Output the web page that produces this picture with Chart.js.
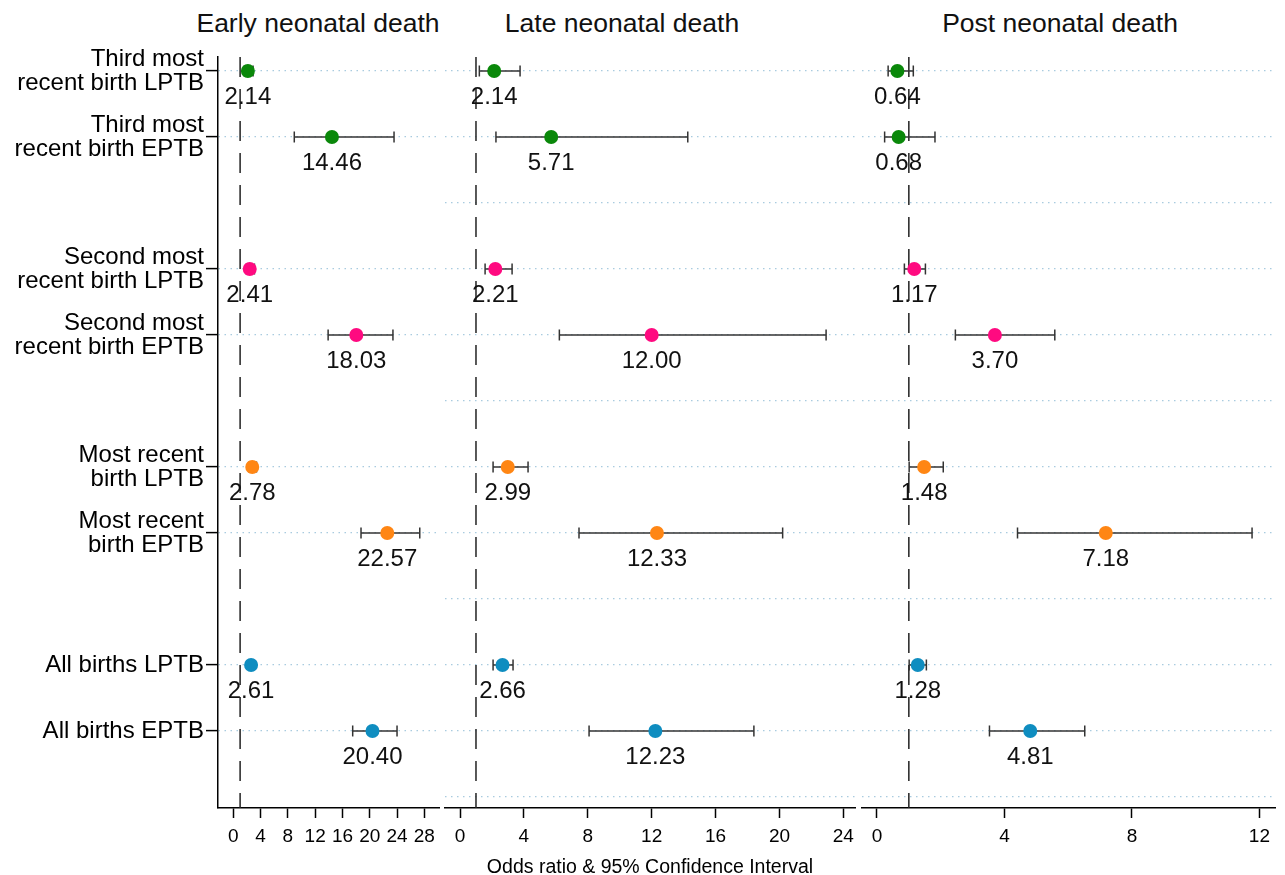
<!DOCTYPE html>
<html><head><meta charset="utf-8">
<script src="https://cdn.jsdelivr.net/npm/chart.js@4.4.1/dist/chart.umd.min.js"></script>
<style>
html,body{margin:0;padding:0;background:#fff;}
body{width:1285px;height:875px;position:relative;overflow:hidden;font-family:"Liberation Sans",Arial,sans-serif;}
canvas{position:absolute;top:0;}
.title{position:absolute;top:8px;font-size:26.5px;line-height:30px;color:#111;white-space:nowrap;transform:translateX(-50%);}
</style></head><body>
<div class="title" style="left:318px">Early neonatal death</div>
<div class="title" style="left:622px">Late neonatal death</div>
<div class="title" style="left:1060px">Post neonatal death</div>
<canvas id="c1" width="480" height="875" style="left:0px"></canvas>
<canvas id="c2" width="470" height="875" style="left:415px"></canvas>
<canvas id="c3" width="447" height="875" style="left:838px"></canvas>
<script>
// ---- data ----
const rowLabels = [
  ["Third most","recent birth LPTB"], ["Third most","recent birth EPTB"], "",
  ["Second most","recent birth LPTB"], ["Second most","recent birth EPTB"], "",
  ["Most recent","birth LPTB"], ["Most recent","birth EPTB"], "",
  "All births LPTB", "All births EPTB", ""
];
const categoryRows = [0,1,3,4,6,7,9,10];
const pointColors = ["#0a880a","#0a880a","#ff0a80","#ff0a80","#ff8614","#ff8614","#0f8dc0","#0f8dc0"];

const earlyOR = [2.14,14.46,2.41,18.03,2.78,22.57,2.61,20.40];
const earlyLo = [1.6,8.94,1.9,13.9,2.3,18.72,2.3,17.5];
const earlyHi = [2.9,23.56,3.1,23.4,3.4,27.33,3.0,24.0];

const lateOR = [2.14,5.71,2.21,12.00,2.99,12.33,2.66,12.23];
const lateLo = [1.21,2.25,1.57,6.22,2.07,7.45,2.07,8.08];
const lateHi = [3.76,14.26,3.26,22.92,4.26,20.2,3.32,18.4];

const postOR = [0.64,0.68,1.17,3.70,1.48,7.18,1.28,4.81];
const postLo = [0.35,0.24,0.86,2.46,1.01,4.41,1.01,3.53];
const postHi = [1.14,1.82,1.52,5.58,2.08,11.77,1.55,6.52];

const earlyTicks = [0,4,8,12,16,20,24,28];
const lateTicks = [0,4,8,12,16,20,24];
const postTicks = [0,4,8,12];
const referenceOR = 1;
const xTitle = "Odds ratio & 95% Confidence Interval";

// ---- rendering ----
const FAMILY = '"Liberation Sans", Arial, sans-serif';
const Y_MIN = -0.212, Y_MAX = 11.167;

const valueLabelPlugin = {
  id: 'valueLabels',
  afterDatasetsDraw(chart, args, opts) {
    const {ctx, scales:{x, y}} = chart;
    ctx.save();
    ctx.font = '24px ' + FAMILY;
    ctx.fillStyle = '#111';
    ctx.textAlign = 'center';
    ctx.textBaseline = 'middle';
    opts.values.forEach((v, i) => {
      ctx.fillText(v.toFixed(2), x.getPixelForValue(v), y.getPixelForValue(opts.rows[i]) + 26);
    });
    ctx.restore();
  }
};

function makePanel(id, p) {
  const datasets = [];
  datasets.push({
    data: categoryRows.map((r, i) => ({x: p.or[i], y: r})),
    pointRadius: 7, pointBackgroundColor: pointColors, pointBorderWidth: 0,
    showLine: false, order: 0
  });
  categoryRows.forEach((r, i) => {
    datasets.push({
      data: [{x: p.lo[i], y: r}, {x: p.hi[i], y: r}],
      showLine: true, borderColor: '#333', borderWidth: 1.5,
      pointStyle: 'line', rotation: 90, pointRadius: 5.5,
      pointBorderColor: '#333', pointBorderWidth: 1.5, order: 1
    });
  });
  datasets.push({
    data: [{x: referenceOR, y: Y_MIN}, {x: referenceOR, y: Y_MAX}],
    showLine: true, borderColor: '#222', borderWidth: 1.5, borderDash: [20, 12],
    pointRadius: 0, order: 2
  });
  const gridRows = p.showY ? categoryRows : rowLabels.map((_, i) => i);
  new Chart(document.getElementById(id), {
    type: 'scatter',
    data: {datasets},
    plugins: [valueLabelPlugin],
    options: {
      responsive: false, animation: false, events: [],
      layout: {padding: {top: 57, bottom: 0, left: p.padL, right: p.padR}},
      plugins: {legend: {display: false}, tooltip: {enabled: false},
                valueLabels: {values: p.or, rows: categoryRows}},
      scales: {
        x: {
          type: 'linear', min: p.min, max: p.max,
          afterBuildTicks: s => { s.ticks = p.ticks.map(v => ({value: v})); },
          afterFit: s => { s.height = 67; },
          ticks: {font: {size: 19, family: FAMILY}, color: '#000', padding: 7,
                  autoSkip: false, maxRotation: 0, callback: v => String(v)},
          grid: {drawOnChartArea: false, drawTicks: true, tickLength: 10,
                 tickColor: '#000', tickWidth: 1.5},
          border: {color: '#000', width: 1.5},
          title: {display: !!p.title, text: p.title || '',
                  font: {size: 19.5, family: FAMILY, lineHeight: 1}, color: '#000',
                  padding: {top: 0, bottom: -2}}
        },
        y: {
          type: 'linear', reverse: true, min: Y_MIN, max: Y_MAX,
          afterBuildTicks: s => { s.ticks = gridRows.map(v => ({value: v})); },
          afterFit: s => { s.width = p.yWidth; },
          ticks: {display: p.showY, autoSkip: false, padding: 2,
                  font: {size: 24, family: FAMILY, lineHeight: 1}, color: '#000',
                  callback: v => rowLabels[v]},
          grid: {color: 'rgba(140,185,212,0.75)', lineWidth: 1.2,
                 drawTicks: p.showY, tickLength: 12, tickColor: '#000',
                 tickWidth: 1.5, tickBorderDash: []},
          border: {display: p.showY, color: '#000', width: 1.5, dash: [1.5, 4.5]}
        }
      }
    }
  });
}

// canvas 1: 0..480, plot 218..439 ; canvas 2: 415..885, plot 445..855 ; canvas 3: 838..1285, plot 862..1275
makePanel('c1', {or: earlyOR, lo: earlyLo, hi: earlyHi, ticks: earlyTicks,
  min: -2.24, max: 30.15, showY: true, yWidth: 218, padL: 0, padR: 41});
makePanel('c2', {or: lateOR, lo: lateLo, hi: lateHi, ticks: lateTicks,
  min: -0.94, max: 24.73, showY: false, yWidth: 0, padL: 30, padR: 30, title: xTitle});
makePanel('c3', {or: postOR, lo: postLo, hi: postHi, ticks: postTicks,
  min: -0.47, max: 12.49, showY: false, yWidth: 0, padL: 24, padR: 10});
</script>
</body></html>
